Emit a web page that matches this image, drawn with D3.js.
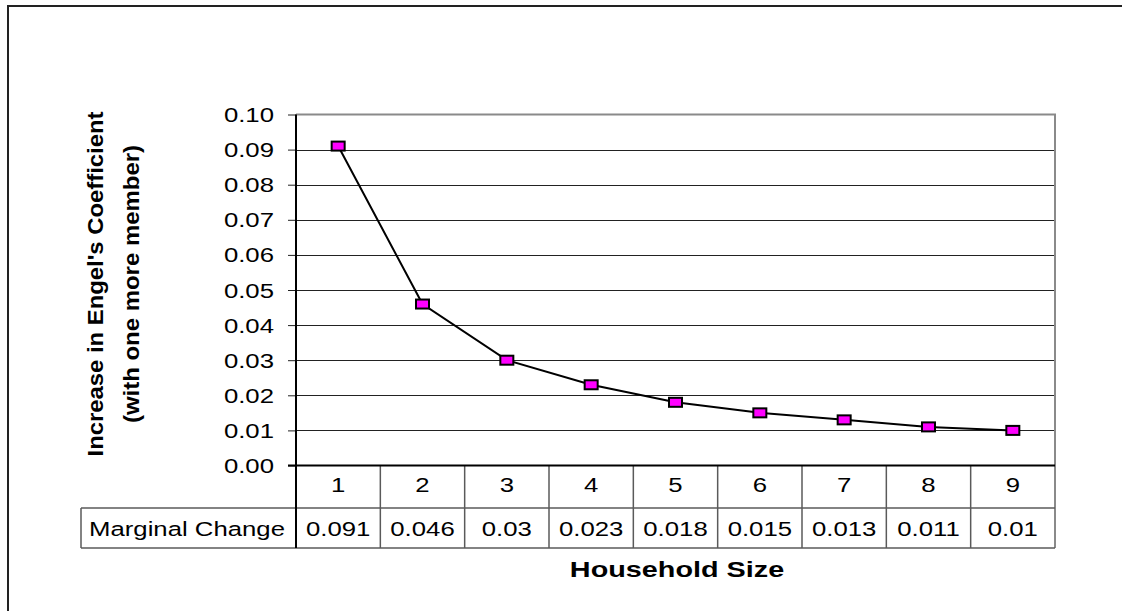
<!DOCTYPE html>
<html>
<head>
<meta charset="utf-8">
<script src="https://cdn.jsdelivr.net/npm/d3@7"></script>
<style>
  body { margin: 0; background: #fff; }
  svg { display: block; }
  text { font-family: "Liberation Sans", Arial, sans-serif; fill: #000; }
</style>
</head>
<body>
<svg id="chart" width="1122" height="611"></svg>
<script>
// ---- data ----
const householdSizes = ["1", "2", "3", "4", "5", "6", "7", "8", "9"];
const marginalChange = [0.091, 0.046, 0.03, 0.023, 0.018, 0.015, 0.013, 0.011, 0.01];
const yTickValues = [0, 0.01, 0.02, 0.03, 0.04, 0.05, 0.06, 0.07, 0.08, 0.09, 0.10];
const tableRowLabel = "Marginal Change";
const xTitle = "Household Size";
const yTitleLines = ["Increase in Engel's Coefficient", "(with one more member)"];

// ---- layout ----
const plot = { left: 296, right: 1055, top: 114.5, bottom: 465.5 };
const table = { left: 81, row1: 508, row2: 548 };
const SX = 1.32; // horizontal stretch of the chart's lettering

const svg = d3.select("#chart");

const x = d3.scaleBand().domain(householdSizes).range([plot.left, plot.right]).padding(0);
const y = d3.scaleLinear().domain([0, 0.1]).range([plot.bottom, plot.top]);
const cx = d => x(d) + x.bandwidth() / 2;

// outer chart frame
svg.append("rect")
  .attr("x", 8).attr("y", 6).attr("width", 1140).attr("height", 640)
  .attr("fill", "none").attr("stroke", "#222").attr("stroke-width", 2);

// horizontal gridlines
svg.append("g")
  .selectAll("line")
  .data(yTickValues.filter(v => v > 0 && v < 0.1))
  .join("line")
  .attr("x1", plot.left).attr("x2", plot.right)
  .attr("y1", d => Math.round(y(d)) + 0.5).attr("y2", d => Math.round(y(d)) + 0.5)
  .attr("stroke", "#222").attr("stroke-width", 1);

// plot border (top / right)
svg.append("path")
  .attr("d", `M${plot.left},${plot.top}H${plot.right}V${table.row2}`)
  .attr("fill", "none").attr("stroke", "#8a8a8a").attr("stroke-width", 2);

// y axis with ticks and labels
const yAxis = d3.axisLeft(y)
  .tickValues(yTickValues)
  .tickSize(8)
  .tickPadding(0)
  .tickFormat(d3.format(".2f"));

const gy = svg.append("g")
  .attr("transform", `translate(${plot.left},0)`)
  .call(yAxis);
gy.select(".domain").remove();
gy.selectAll(".tick line").attr("stroke", "#222").attr("stroke-width", 1);
gy.selectAll(".tick text")
  .attr("x", null).attr("dy", null)
  .attr("text-anchor", "end")
  .attr("font-size", 19.5)
  .attr("font-family", null)
  .attr("fill", "#000")
  .attr("transform", `translate(-22,7) scale(${SX},1)`);

// table grid
const tg = svg.append("g").attr("stroke", "#5a5a5a").attr("stroke-width", 1.5).attr("fill", "none");
tg.append("line").attr("x1", table.left).attr("x2", plot.right).attr("y1", table.row1).attr("y2", table.row1);
tg.append("line").attr("x1", table.left).attr("x2", plot.right).attr("y1", table.row2).attr("y2", table.row2);
tg.append("line").attr("x1", table.left).attr("x2", table.left).attr("y1", table.row1).attr("y2", table.row2);
tg.selectAll(".col")
  .data(householdSizes.slice(1))
  .join("line")
  .attr("class", "col")
  .attr("x1", d => x(d)).attr("x2", d => x(d))
  .attr("y1", plot.bottom).attr("y2", table.row2);

// axis lines (left + bottom)
svg.append("line")
  .attr("x1", plot.left).attr("x2", plot.left)
  .attr("y1", plot.top).attr("y2", table.row2)
  .attr("stroke", "#000").attr("stroke-width", 2);
svg.append("line")
  .attr("x1", plot.left - 8).attr("x2", plot.right)
  .attr("y1", plot.bottom).attr("y2", plot.bottom)
  .attr("stroke", "#000").attr("stroke-width", 2);

// helper for stretched text
function label(g, txt, px, py, opts = {}) {
  return g.append("text")
    .attr("transform", `translate(${px},${py}) scale(${opts.sx || SX},1)`)
    .attr("text-anchor", opts.anchor || "middle")
    .attr("font-size", opts.size || 19.5)
    .attr("font-weight", opts.weight || "normal")
    .text(txt);
}

// category labels and value row
const tt = svg.append("g");
householdSizes.forEach((h, i) => {
  label(tt, h, cx(h), 492);
  label(tt, String(marginalChange[i]), cx(h), 536);
});
label(tt, tableRowLabel, 89, 536, { anchor: "start" });

// x title
label(svg, xTitle, 677, 577, { size: 22.5, weight: "bold", sx: 1.28 });

// y title (rotated, two lines)
const yLineX = [103, 138.5];
const yLineLen = [345, 278];
yTitleLines.forEach((t, i) => {
  svg.append("text")
    .attr("transform", `translate(${yLineX[i]},284) rotate(-90)`)
    .attr("text-anchor", "middle")
    .attr("font-size", 22.5)
    .attr("font-weight", "bold")
    .attr("textLength", yLineLen[i])
    .attr("lengthAdjust", "spacingAndGlyphs")
    .text(t);
});

// series line
const line = d3.line()
  .x((d, i) => cx(householdSizes[i]))
  .y(d => y(d));
svg.append("path")
  .datum(marginalChange)
  .attr("d", line)
  .attr("fill", "none")
  .attr("stroke", "#000")
  .attr("stroke-width", 2);

// markers
svg.append("g")
  .selectAll("rect")
  .data(marginalChange)
  .join("rect")
  .attr("x", (d, i) => cx(householdSizes[i]) - 6.5)
  .attr("y", d => y(d) - 4.5)
  .attr("width", 13)
  .attr("height", 9)
  .attr("fill", "#ff00ff")
  .attr("stroke", "#000")
  .attr("stroke-width", 2);
</script>
</body>
</html>
